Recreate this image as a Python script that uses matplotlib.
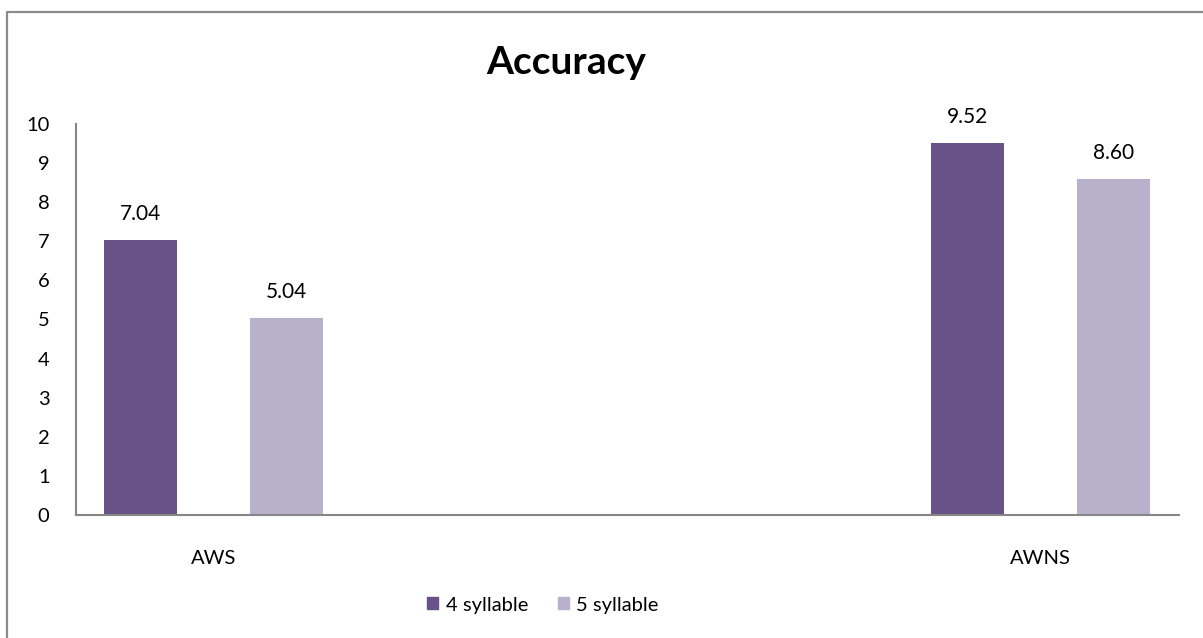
import numpy as np
import matplotlib
matplotlib.use('Agg')
import matplotlib.pyplot as plt
from matplotlib.patches import Patch

plt.rcParams['font.family'] = ['Lato', 'DejaVu Sans']

# data
groups = ['AWS', 'AWNS']
series = ['4 syllable', '5 syllable']
four_syl = [7.04, 9.52]
five_syl = [5.04, 8.60]
yticks = [0, 1, 2, 3, 4, 5, 6, 7, 8, 9, 10]

dark = '#685287'
light = '#B9B0CC'
axis_grey = '#868686'

fig = plt.figure(figsize=(12.03, 6.38), dpi=100)
ax = fig.add_axes([76/1203, 1-515/638, (1179-76)/1203, (515-124)/638])

x = np.arange(len(groups))
w = 0.0883
b1 = ax.bar(x - w, four_syl, w, color=dark, label=series[0])
b2 = ax.bar(x + w, five_syl, w, color=light, label=series[1])

# value labels above each bar
for bars, vals in [(b1, four_syl), (b2, five_syl)]:
    for r, v in zip(bars, vals):
        ax.annotate('%.2f' % v, (r.get_x() + r.get_width()/2, v),
                    xytext=(0, 18.5), textcoords='offset points',
                    ha='center', va='center', fontsize=15, clip_on=False)

ax.set_xlim(-0.1663, 1.1675)
ax.set_ylim(0, 10)
ax.set_yticks(yticks)
ax.set_xticks(x)
ax.set_xticklabels(groups)
ax.tick_params(axis='y', length=0, pad=19, labelsize=14.5)
ax.tick_params(axis='x', length=0, pad=25, labelsize=14.5)

for s in ['top', 'right']:
    ax.spines[s].set_visible(False)
for s in ['left', 'bottom']:
    ax.spines[s].set_color(axis_grey)
    ax.spines[s].set_linewidth(1.5)

fig.text(566/1203, 1-63/638, 'Accuracy', ha='center', va='center',
         fontsize=28, fontweight='bold')

handles = [Patch(color=dark), Patch(color=light)]
fig.legend(handles, series, loc='center', bbox_to_anchor=(543/1203, 1-605/638),
           ncol=2, frameon=False, fontsize=14.5, handlelength=0.55, handleheight=0.55,
           handletextpad=0.35, columnspacing=1.5)

# chart border (left and top edges)
fig.add_artist(plt.Line2D([6.5/1203, 6.5/1203, 1.0], [0, 1-11.5/638, 1-11.5/638],
                          transform=fig.transFigure, color='#8C8C8C', lw=1.6))

fig.savefig('out.png', dpi=100)
